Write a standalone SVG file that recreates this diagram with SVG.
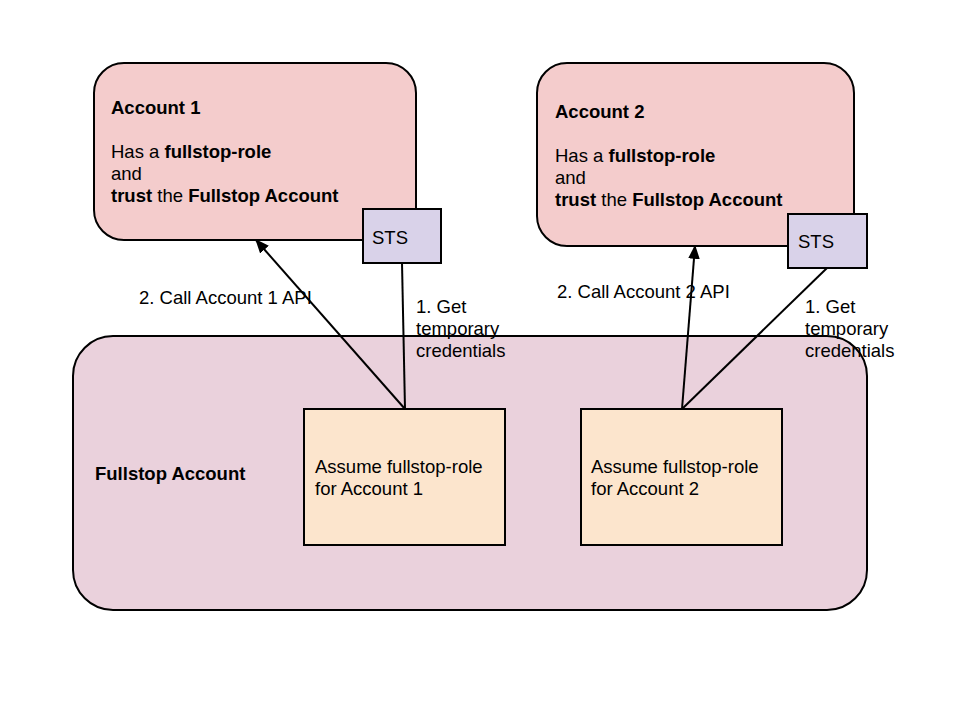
<svg xmlns="http://www.w3.org/2000/svg" width="960" height="720" viewBox="0 0 960 720">
<defs>
<style>
text{font-family:"Liberation Sans",Arial,sans-serif;font-size:18.5px;fill:#000}
.b{font-weight:bold}
.acct{fill:#f4cccc;stroke:#000;stroke-width:2}
.sts{fill:#d9d2e9;stroke:#000;stroke-width:2}
.full{fill:#ead1dc;stroke:#000;stroke-width:2}
.task{fill:#fce5cd;stroke:#000;stroke-width:2}
.conn{stroke:#000;stroke-width:2;fill:none}
</style>
<marker id="ah" viewBox="0 0 10 10" refX="9" refY="5" markerWidth="6" markerHeight="6" markerUnits="userSpaceOnUse" orient="auto" overflow="visible">
<path d="M0,0 L10,5 L0,10 z" fill="#000" transform="scale(1.6) translate(-3.4,-1.9)"/>
</marker>
<marker id="a2" viewBox="0 0 12 10" refX="11" refY="5" markerWidth="14" markerHeight="12" markerUnits="userSpaceOnUse" orient="auto">
<path d="M0,0 L12,5 L0,10 z" fill="#000"/>
</marker>
</defs>
<g id="fullstop">
<rect class="full" x="73" y="336" width="794" height="274" rx="40"/>
<text class="b" x="95" y="480">Fullstop Account</text>
</g>
<g id="account1">
<rect class="acct" x="94" y="63" width="322" height="177" rx="30"/>
<text class="b" x="111" y="114">Account 1</text>
<text x="111" y="158">Has a <tspan class="b">fullstop-role</tspan></text>
<text x="111" y="180">and</text>
<text x="111" y="202"><tspan class="b">trust</tspan> the <tspan class="b">Fullstop Account</tspan></text>
</g>
<g id="sts1">
<rect class="sts" x="363" y="209" width="78" height="54"/>
<text x="372" y="244">STS</text>
</g>
<g id="account2">
<rect class="acct" x="537" y="63" width="317" height="183" rx="30"/>
<text class="b" x="555" y="118">Account 2</text>
<text x="555" y="162">Has a <tspan class="b">fullstop-role</tspan></text>
<text x="555" y="184">and</text>
<text x="555" y="206"><tspan class="b">trust</tspan> the <tspan class="b">Fullstop Account</tspan></text>
</g>
<g id="sts2">
<rect class="sts" x="788" y="214" width="79" height="54"/>
<text x="798" y="248">STS</text>
</g>
<g id="assume1">
<rect class="task" x="304" y="409" width="201" height="136"/>
<text x="315" y="473">Assume fullstop-role</text>
<text x="315" y="495">for Account 1</text>
</g>
<g id="assume2">
<rect class="task" x="581" y="409" width="201" height="136"/>
<text x="591" y="473">Assume fullstop-role</text>
<text x="591" y="495">for Account 2</text>
</g>
<g id="connectors">
<line class="conn" x1="402" y1="263" x2="405" y2="409"/>
<line class="conn" x1="405" y1="409" x2="256" y2="240" marker-end="url(#a2)"/>
<line class="conn" x1="827" y1="268" x2="682" y2="409"/>
<line class="conn" x1="682" y1="409" x2="695" y2="246" marker-end="url(#a2)"/>
<text x="139" y="304">2. Call Account 1 API</text>
<text x="416" y="313">1. Get</text>
<text x="416" y="335">temporary</text>
<text x="416" y="357">credentials</text>
<text x="557" y="298">2. Call Account 2 API</text>
<text x="805" y="313">1. Get</text>
<text x="805" y="335">temporary</text>
<text x="805" y="357">credentials</text>
</g>
</svg>
